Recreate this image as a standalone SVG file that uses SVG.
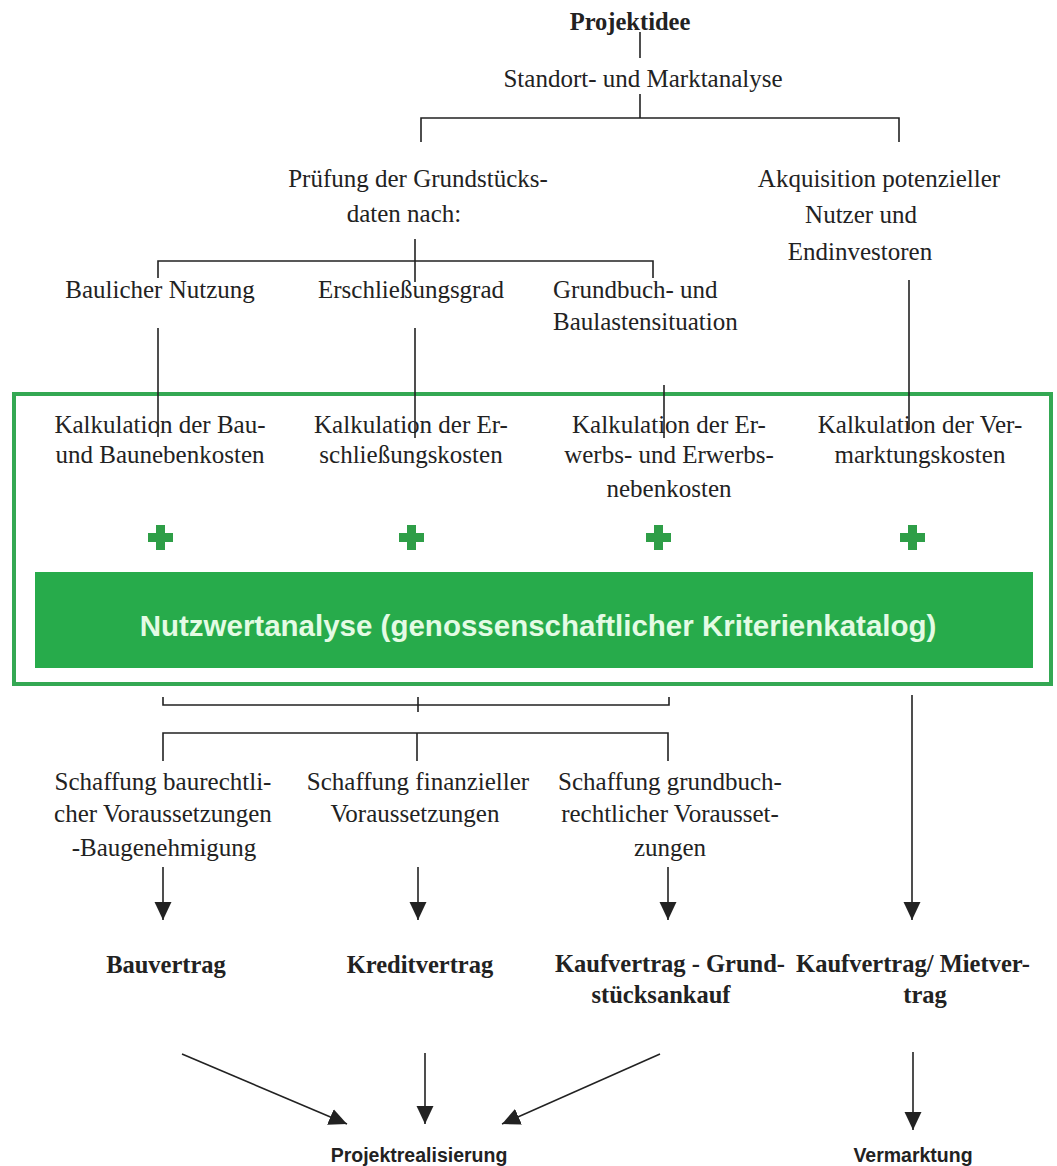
<svg xmlns="http://www.w3.org/2000/svg" width="1057" height="1166" viewBox="0 0 1057 1166">
<style>
.t{font-family:"Liberation Serif","Times New Roman",serif;font-size:25px;fill:#222;text-anchor:middle}
.b{font-weight:bold;font-size:24.5px}
.s{font-family:"Liberation Sans",Arial,sans-serif;font-weight:bold;font-size:19.5px;fill:#222;text-anchor:middle}
.ln{stroke:#222;stroke-width:1.6;fill:none}
.plus{fill:#2e9e47}
</style>
<defs>
<marker id="ah" markerUnits="userSpaceOnUse" markerWidth="18" markerHeight="18" refX="17" refY="8" orient="auto" viewBox="0 0 17 16">
<path d="M0,0 L17,8 L0,16 Z" fill="#222"/>
</marker>
</defs>
<rect width="1057" height="1166" fill="#fff"/>

<g id="green-frame">
<rect x="14" y="394" width="1037" height="290" fill="none" stroke="#34a853" stroke-width="4"/>
<rect id="nutzwert-box" x="35" y="572" width="998" height="96" fill="#27ab4b"/>
<text x="538" y="636" style="font-family:'Liberation Sans',Arial,sans-serif;font-weight:bold;font-size:29.5px;fill:#e4fbe4;text-anchor:middle">Nutzwertanalyse (genossenschaftlicher Kriterienkatalog)</text>
</g>

<g id="connectors">
<line class="ln" x1="640" y1="32" x2="640" y2="58"/>
<line class="ln" x1="640" y1="94" x2="640" y2="118"/>
<polyline class="ln" points="421,142 421,118 899,118 899,142"/>
<line class="ln" x1="415" y1="239" x2="415" y2="282"/>
<polyline class="ln" points="158,278 158,261 653,261 653,278"/>
<line class="ln" x1="158" y1="328" x2="158" y2="437"/>
<line class="ln" x1="415" y1="328" x2="415" y2="438"/>
<line class="ln" x1="664" y1="385" x2="664" y2="438"/>
<line class="ln" x1="909" y1="280" x2="909" y2="430"/>
<polyline class="ln" points="163,697 163,705 669,705 669,697"/>
<line class="ln" x1="418" y1="697" x2="418" y2="712"/>
<polyline class="ln" points="163,761 163,733 668,733 668,761"/>
<line class="ln" x1="417" y1="733" x2="417" y2="761"/>
<line class="ln" x1="163" y1="867" x2="163" y2="920" marker-end="url(#ah)"/>
<line class="ln" x1="418" y1="867" x2="418" y2="920" marker-end="url(#ah)"/>
<line class="ln" x1="668" y1="867" x2="668" y2="920" marker-end="url(#ah)"/>
<line class="ln" x1="912" y1="695" x2="912" y2="920" marker-end="url(#ah)"/>
<line class="ln" x1="182" y1="1054" x2="347" y2="1124" marker-end="url(#ah)"/>
<line class="ln" x1="425" y1="1053" x2="425" y2="1124" marker-end="url(#ah)"/>
<line class="ln" x1="660" y1="1054" x2="502" y2="1124" marker-end="url(#ah)"/>
<line class="ln" x1="913" y1="1052" x2="913" y2="1130" marker-end="url(#ah)"/>
</g>

<g id="projektidee"><text class="t b" x="630" y="30">Projektidee</text></g>
<g id="standort"><text class="t" x="643" y="87">Standort- und Marktanalyse</text></g>
<g id="pruefung"><text class="t" x="418" y="187">Prüfung der Grundstücks-</text><text class="t" x="404" y="222">daten nach:</text></g>
<g id="akquisition"><text class="t" x="879" y="187">Akquisition potenzieller</text><text class="t" x="861" y="223">Nutzer und</text><text class="t" x="860" y="260">Endinvestoren</text></g>
<g id="baulich"><text class="t" x="160" y="298">Baulicher Nutzung</text></g>
<g id="erschliessung"><text class="t" x="411" y="298">Erschließungsgrad</text></g>
<g id="grundbuch"><text class="t" x="553" y="298" style="text-anchor:start">Grundbuch- und</text><text class="t" x="553" y="330" style="text-anchor:start">Baulastensituation</text></g>

<g id="kalk-bau"><text class="t" x="160" y="433">Kalkulation der Bau-</text><text class="t" x="160" y="463">und Baunebenkosten</text></g>
<g id="kalk-erschl"><text class="t" x="411" y="433">Kalkulation der Er-</text><text class="t" x="411" y="463">schließungskosten</text></g>
<g id="kalk-erwerb"><text class="t" x="669" y="433">Kalkulation der Er-</text><text class="t" x="669" y="463">werbs- und Erwerbs-</text><text class="t" x="669" y="497">nebenkosten</text></g>
<g id="kalk-vermarkt"><text class="t" x="920" y="433">Kalkulation der Ver-</text><text class="t" x="920" y="463">marktungskosten</text></g>

<g id="plus-signs">
<path class="plus" d="M156,525h9v8h8v9h-8v8h-9v-8h-8v-9h8z"/>
<path class="plus" d="M407,525h9v8h8v9h-8v8h-9v-8h-8v-9h8z"/>
<path class="plus" d="M654,525h9v8h8v9h-8v8h-9v-8h-8v-9h8z"/>
<path class="plus" d="M908,525h9v8h8v9h-8v8h-9v-8h-8v-9h8z"/>
</g>

<g id="schaffung-bau"><text class="t" x="163" y="790">Schaffung baurechtli-</text><text class="t" x="163" y="822">cher Voraussetzungen</text><text class="t" x="164" y="856">-Baugenehmigung</text></g>
<g id="schaffung-fin"><text class="t" x="418" y="790">Schaffung finanzieller</text><text class="t" x="415" y="822">Voraussetzungen</text></g>
<g id="schaffung-grund"><text class="t" x="670" y="790">Schaffung grundbuch-</text><text class="t" x="670" y="822">rechtlicher Vorausset-</text><text class="t" x="670" y="856">zungen</text></g>

<g id="bauvertrag"><text class="t b" x="166" y="973">Bauvertrag</text></g>
<g id="kreditvertrag"><text class="t b" x="420" y="973">Kreditvertrag</text></g>
<g id="kaufvertrag-grund"><text class="t b" x="670" y="972">Kaufvertrag - Grund-</text><text class="t b" x="661" y="1003">stücksankauf</text></g>
<g id="kaufvertrag-miet"><text class="t b" x="913" y="972">Kaufvertrag/ Mietver-</text><text class="t b" x="925" y="1003">trag</text></g>

<g id="projektrealisierung"><text class="s" x="419" y="1162">Projektrealisierung</text></g>
<g id="vermarktung"><text class="s" x="913" y="1162">Vermarktung</text></g>
</svg>
